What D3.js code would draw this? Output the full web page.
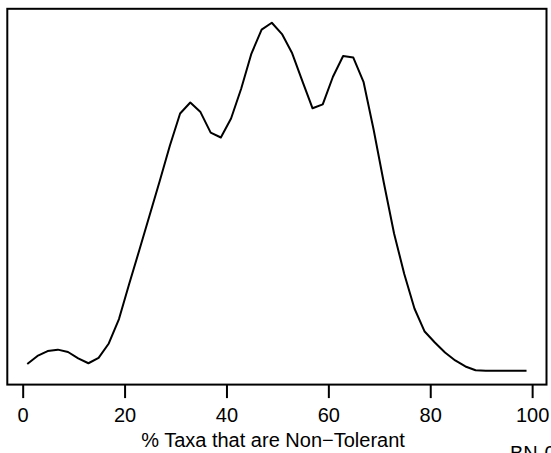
<!DOCTYPE html>
<html>
<head>
<meta charset="utf-8">
<script src="https://cdn.jsdelivr.net/npm/d3@7"></script>
<style>
  html, body { margin: 0; padding: 0; background: #fff; }
  svg { display: block; }
  text { font-family: "Liberation Sans", Arial, Helvetica, sans-serif; fill: #000; }
</style>
</head>
<body>
<svg id="chart" width="551" height="453"></svg>
<script>
// ---- data ----
const xValues = [0.9, 2.9, 4.9, 6.9, 8.9, 10.9, 12.9, 14.9, 16.9, 18.9,
                 20.9, 22.9, 24.9, 26.9, 28.9, 30.9, 32.9, 34.9, 36.9, 38.9,
                 40.9, 42.9, 44.9, 46.9, 48.9, 50.9, 52.9, 54.9, 56.9, 58.9,
                 60.9, 62.9, 64.9, 66.9, 68.9, 70.9, 72.9, 74.9, 76.9, 78.9,
                 80.9, 82.9, 84.9, 86.9, 88.9, 90.9, 92.9, 94.9, 96.9, 98.9];
const densityValues = [0.00048, 0.00105, 0.00140, 0.00150, 0.00133, 0.00088, 0.00053, 0.00091, 0.00194, 0.00368,
                       0.00618, 0.00860, 0.01106, 0.01352, 0.01605, 0.01833, 0.01911, 0.01843, 0.01697, 0.01662,
                       0.01797, 0.02011, 0.02260, 0.02431, 0.02480, 0.02399, 0.02262, 0.02064, 0.01870, 0.01898,
                       0.02095, 0.02243, 0.02232, 0.02059, 0.01715, 0.01338, 0.00978, 0.00689, 0.00443, 0.00279,
                       0.00201, 0.00130, 0.00073, 0.00030, 0.00003, 0.00000, 0.00000, 0.00000, 0.00000, 0.00000];
const xTicks = [0, 20, 40, 60, 80, 100];
const xLabel = "% Taxa that are Non\u2212Tolerant";
const cornerNote = "BN-0";

// ---- layout ----
const box = { left: 7.3, right: 546.5, top: 8.8, bottom: 384.6 };

const svg = d3.select("#chart");

// R-style 4% axis padding
function padded(ext) {
  const span = ext[1] - ext[0];
  return [ext[0] - 0.04 * span, ext[1] + 0.04 * span];
}
const x = d3.scaleLinear().domain(padded(d3.extent(xValues))).range([box.left, box.right]);
const y = d3.scaleLinear().domain(padded(d3.extent(densityValues))).range([box.bottom, box.top]);

const pts = xValues.map((v, i) => [v, densityValues[i]]);

svg.append("path")
  .datum(pts)
  .attr("fill", "none")
  .attr("stroke", "#000")
  .attr("stroke-width", 2)
  .attr("stroke-linejoin", "round")
  .attr("d", d3.line().x(d => x(d[0])).y(d => y(d[1])));

// frame
svg.append("rect")
  .attr("x", box.left).attr("y", box.top)
  .attr("width", box.right - box.left).attr("height", box.bottom - box.top)
  .attr("fill", "none").attr("stroke", "#000").attr("stroke-width", 2);

// x axis
const axis = d3.axisBottom(x).tickValues(xTicks).tickSize(13.5).tickPadding(10).tickFormat(d3.format("d"));
const g = svg.append("g").attr("transform", `translate(0,${box.bottom})`).call(axis);
g.select(".domain").remove();
g.selectAll(".tick line").attr("stroke", "#000").attr("stroke-width", 2);
g.selectAll(".tick text")
  .attr("font-size", 20)
  .attr("font-family", "'Liberation Sans', Arial, sans-serif")
  .attr("fill", "#000");

svg.append("text")
  .attr("x", 273)
  .attr("y", 447)
  .attr("text-anchor", "middle")
  .attr("font-size", 20)
  .text(xLabel);

svg.append("text")
  .attr("x", 510)
  .attr("y", 460)
  .attr("font-size", 20)
  .text(cornerNote);
</script>
</body>
</html>
